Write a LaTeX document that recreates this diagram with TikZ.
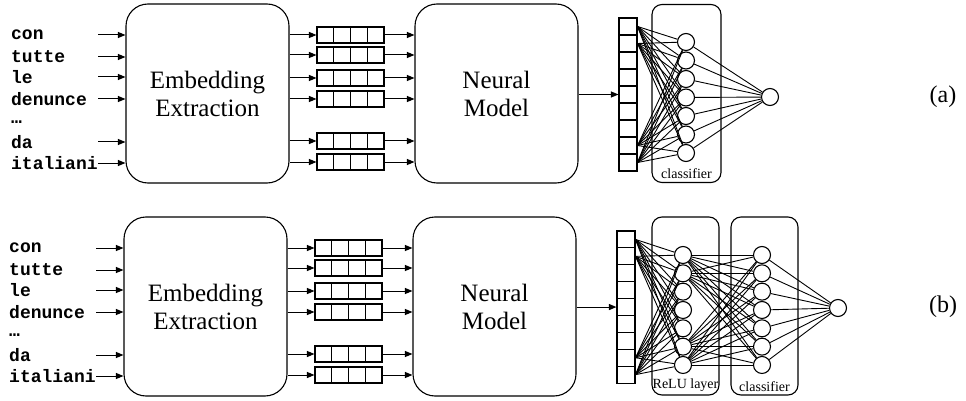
\documentclass[tikz,border=0pt]{standalone}
\usepackage{fontspec}
\setmainfont{Liberation Serif}
\setmonofont{Liberation Mono}
\usetikzlibrary{arrows.meta, positioning}

\tikzset{
  arr/.style={-{Triangle[length=7.5pt,width=6pt]}, line width=1pt},
  block/.style={draw, line width=1.1pt, rounded corners=22pt, minimum width=163pt, minimum height=179pt, align=center, font=\fontsize{25}{28}\selectfont},
  layer/.style={draw, line width=1.1pt, rounded corners=10pt, minimum height=178pt},
  cell/.style={draw, line width=1.1pt, minimum width=16.75pt, minimum height=16pt, inner sep=0pt},
  incell/.style={draw, line width=1.1pt, minimum width=18pt, minimum height=17pt, inner sep=0pt},
  neuron/.style={draw, circle, line width=1.1pt, minimum size=17pt, inner sep=0pt},
  word/.style={anchor=west, inner sep=0pt, font=\ttfamily\bfseries\fontsize{18}{18}\selectfont},
  edge/.style={line width=0.9pt},
  tag/.style={font=\fontsize{14}{14}\selectfont},
}

\begin{document}
\begin{tikzpicture}[x=1pt, y=-1pt]
\useasboundingbox (0,0) rectangle (966,401);

% left half, same for both rows
\foreach \p/\dx/\dy in {a/0/0, b/-2/213} {
\begin{scope}[shift={(\dx,\dy)}]
  \node[block] (embed\p) at (207.5,93.5) {Embedding\\Extraction};
  \node[block] (model\p) at (496.5,93.5) {Neural\\Model};
  \foreach \w/\y [count=\i] in {con/35, tutte/57, le/77, denunce/99, …/122, da/142, italiani/163}
    \node[word] (word\p\i) at (11,\y) {\w};
  \foreach \y [count=\i] in {35,57,77,99,142,163} {
    \coordinate (src\p\i) at (98,\y);
    \draw[arr] (src\p\i) -- (embed\p.west |- src\p\i);
  }
  % word vectors
  \foreach \y [count=\i] in {35,55,78,99,141,162} {
    \foreach \j in {0,...,3}
      \node[cell] (vec\p\i-\j) at (325.4+16.75*\j,\y) {};
    \draw[arr] (embed\p.east |- vec\p\i-0) -- (vec\p\i-0.west);
    \draw[arr] (vec\p\i-3.east) -- (model\p.west |- vec\p\i-3);
  }
\end{scope}
}

% (a) classifier only
\foreach \j in {1,...,9}
  \node[incell] (ina\j) at (628,9.5+17*\j) {};
\draw[arr] (modela.east |- ina5) -- (ina5.west);
\node[layer, minimum width=69pt] (clfa) at (686.5,93.5) {};
\node[tag, above=1pt of clfa.south] (clfaTag) {classifier};
\foreach \k in {1,...,7}
  \node[neuron] (ha\k) at (686,23.5+18.5*\k) {};
\node[neuron] (outa) at (770,97) {};
\foreach \j in {1,2,8,9}
  \foreach \k in {1,...,7}
    \draw[edge] (ina\j.east) -- (ha\k);
\foreach \k in {1,...,7}
  \draw[edge] (ha\k) -- (outa);
\node[font=\fontsize{24}{24}\selectfont] (tagA) at (943,97) {(a)};

% (b) relu layer + classifier
\foreach \j in {1,...,9}
  \node[incell, minimum height=16.9pt] (inb\j) at (626,222.55+16.9*\j) {};
\draw[arr] (modelb.east |- inb5) -- (inb5.west);
\node[layer, minimum width=67pt] (relub) at (685.5,306) {};
\node[tag, above=0pt of relub.south] (relubTag) {ReLU layer};
\node[layer, minimum width=67pt] (clfb) at (764.5,306) {};
\node[tag, above=0pt of clfb.south] (clfbTag) {classifier};
\foreach \k in {1,...,7} {
  \node[neuron] (rb\k) at (683,236.67+18.33*\k) {};
  \node[neuron] (cb\k) at (762,236.67+18.33*\k) {};
}
\node[neuron] (outb) at (838,308) {};
\foreach \j in {1,2,8,9}
  \foreach \k in {1,...,7}
    \draw[edge] (inb\j.east) -- (rb\k);
\foreach \j in {1,2,6,7}
  \foreach \k in {1,...,7}
    \draw[edge] (rb\j) -- (cb\k);
\foreach \k in {1,...,7}
  \draw[edge] (cb\k) -- (outb);
\node[font=\fontsize{24}{24}\selectfont] (tagB) at (943,307) {(b)};

\end{tikzpicture}
\end{document}
